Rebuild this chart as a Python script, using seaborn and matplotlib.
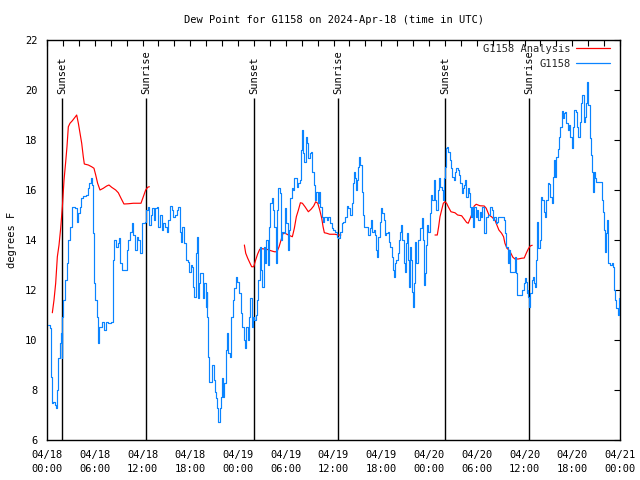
import pandas as pd
import matplotlib
matplotlib.use('Agg')
import matplotlib.pyplot as plt
import matplotlib.dates as mdates
from matplotlib.lines import Line2D
import seaborn as sns

START = pd.Timestamp('2024-04-18 00:00')

# station observations (hours since start, deg F)
obs_hours = [
    0.08, 0.38, 0.50, 0.67, 0.80, 1.00, 1.13, 1.26, 1.42, 1.59, 1.76, 1.84, 1.93, 2.05, 2.26, 2.47,
    2.68, 2.89, 3.18, 3.52, 3.81, 3.94, 4.10, 4.27, 4.57, 4.86, 5.11, 5.32, 5.49, 5.61, 5.82, 5.90,
    6.03, 6.24, 6.45, 6.58, 6.87, 7.12, 7.41, 7.71, 8.00, 8.25, 8.33, 8.46, 8.67, 8.88, 9.05, 9.21,
    9.46, 9.80, 10.01, 10.22, 10.47, 10.64, 10.85, 11.06, 11.27, 11.48, 11.68, 11.89, 12.31, 12.48,
    12.65, 12.82, 13.07, 13.23, 13.40, 13.57, 13.78, 13.99, 14.20, 14.41, 14.62, 14.83, 15.04, 15.25,
    15.45, 15.66, 15.87, 16.08, 16.29, 16.50, 16.67, 16.84, 17.00, 17.25, 17.42, 17.67, 17.88,
    18.09, 18.26, 18.39, 18.51, 18.68, 18.81, 18.93, 19.02, 19.14, 19.27, 19.52, 19.64, 19.77, 19.94,
    20.06, 20.15, 20.23, 20.36, 20.61, 20.78, 20.94, 21.11, 21.28, 21.40, 21.53, 21.70, 21.87, 22.03,
    22.16, 22.28, 22.45, 22.58, 22.79, 22.99, 23.12, 23.33, 23.54, 23.75, 23.92, 24.13, 24.34, 24.55,
    24.71, 24.88, 25.05, 25.22, 25.38, 25.55, 25.72, 25.89, 26.06, 26.22, 26.39, 26.56, 26.73, 26.89,
    27.06, 27.23, 27.40, 27.56, 27.73, 27.90, 28.07, 28.23, 28.40, 28.57, 28.74, 28.90, 29.07, 29.24,
    29.41, 29.57, 29.74, 29.91, 30.08, 30.25, 30.41, 30.58, 30.75, 30.92, 31.08, 31.25, 31.42, 31.59,
    31.75, 31.92, 32.01, 32.17, 32.34, 32.51, 32.68, 32.84, 33.01, 33.18, 33.35, 33.51, 33.68, 33.85,
    34.02, 34.18, 34.35, 34.52, 34.69, 34.85,
    35.13, 35.34, 35.55, 35.76, 35.97, 36.18, 36.39, 36.60, 36.81, 37.02, 37.22, 37.43, 37.64, 37.85,
    38.06, 38.27, 38.40, 38.52, 38.69, 38.86, 38.98, 39.11, 39.24, 39.36, 39.53, 39.70, 39.86, 40.16,
    40.37, 40.53, 40.70, 40.87, 41.04, 41.21, 41.37, 41.50, 41.62, 41.83, 42.00, 42.13, 42.29, 42.46,
    42.63, 42.80, 42.96, 43.13, 43.30, 43.47, 43.55, 43.72, 43.89, 44.05, 44.22, 44.39, 44.52, 44.64,
    44.81, 44.93, 45.06, 45.23, 45.40, 45.52, 45.65, 45.77, 45.90, 46.02, 46.15, 46.27, 46.40, 46.57,
    46.74, 46.90, 47.07, 47.24, 47.32, 47.45, 47.57, 47.74, 47.91, 48.08, 48.24, 48.41, 48.58, 48.75,
    48.91, 49.08, 49.25, 49.42, 49.59, 49.75, 49.88, 50.00, 50.09, 50.26, 50.42, 50.59, 50.76, 50.93,
    51.09, 51.26, 51.43, 51.60, 51.76, 51.93, 52.10, 52.27, 52.43,
    52.51, 52.68, 52.85, 53.01, 53.14, 53.26, 53.43, 53.56, 53.68, 53.85, 54.02, 54.19, 54.35, 54.52,
    54.69, 54.86, 55.02, 55.19, 55.36, 55.53, 55.69, 55.86, 56.03, 56.20, 56.36, 56.53, 56.70, 56.95,
    57.20, 57.45, 57.54, 57.71, 57.87, 58.00, 58.12, 58.38, 58.63, 58.80, 58.96, 59.05, 59.30, 59.55,
    59.72, 59.88, 60.05, 60.22, 60.30, 60.39, 60.47, 60.60, 60.72, 60.89, 61.06, 61.23, 61.35, 61.43,
    61.56, 61.73, 61.90, 62.06, 62.23, 62.40, 62.57, 62.73, 62.90, 63.07, 63.24, 63.40, 63.53, 63.66,
    63.82, 63.99, 64.16, 64.33, 64.49, 64.66, 64.79, 64.91, 65.08, 65.25, 65.42, 65.58, 65.75, 65.92,
    66.09, 66.25, 66.42, 66.59, 66.76, 66.92, 67.09, 67.26, 67.43, 67.59, 67.76, 67.89, 68.01, 68.18,
    68.35, 68.52, 68.64, 68.77, 68.89, 69.02, 69.27, 69.52, 69.69, 69.86, 70.02, 70.15, 70.28, 70.40,
    70.53, 70.74, 70.95, 71.11, 71.24, 71.37, 71.53, 71.70, 71.83, 71.95,
]
obs_dewpt = [
    10.6, 10.47, 8.53, 7.47, 7.53, 7.4, 7.27, 8.0, 9.27, 9.87, 10.27, 9.27, 10.93, 11.6, 12.4, 13.07,
    14.0, 14.53, 15.31, 15.27, 14.73, 15.07, 15.33, 15.67, 15.77, 15.8, 16.07, 16.27, 16.47, 16.2, 14.27, 12.27,
    11.6, 10.93, 9.87, 10.53, 10.73, 10.4, 10.73, 10.69, 10.73, 11.6, 13.2, 14.0, 13.73, 13.87, 14.07, 13.07,
    12.8, 12.8, 13.6, 14.0, 14.33, 14.67, 14.2, 13.6, 14.13, 14.0, 13.47, 14.69, 14.73, 15.2,
    15.33, 14.6, 15.0, 15.27, 14.8, 15.27, 15.33, 14.53, 15.0, 14.4, 14.67, 14.53, 14.33, 14.8,
    15.36, 15.2, 14.93, 15.0, 15.2, 15.31, 14.33, 13.93, 14.53, 13.87, 13.2, 13.13, 12.73,
    13.0, 12.93, 12.13, 11.73, 13.47, 14.13, 13.47, 11.67, 12.27, 12.67, 12.67, 11.67, 12.27, 11.33,
    11.93, 10.93, 9.33, 8.33, 8.33, 9.0, 8.4, 7.93, 7.67, 7.27, 6.73, 7.27, 7.73, 8.47,
    7.73, 8.27, 9.6, 10.27, 9.47, 9.33, 10.93, 11.6, 12.07, 12.53, 12.33, 11.87, 11.07, 10.53,
    10.0, 9.67, 10.53, 10.0, 10.93, 11.67, 10.53, 10.93, 10.8, 11.0, 11.6, 12.4, 13.73, 12.8,
    12.13, 13.73, 13.07, 14.0, 13.0, 14.53, 15.47, 15.67, 15.2, 14.53, 13.07, 15.2, 16.07, 15.87,
    14.0, 14.33, 14.27, 15.27, 14.67, 13.6, 14.4, 15.67, 16.07, 16.0, 16.47, 16.47, 16.13, 16.27,
    16.4, 17.6, 18.4, 17.47, 17.13, 18.13, 17.87, 17.27, 17.47, 17.53, 16.73, 16.2, 15.6, 15.93,
    15.47, 15.93, 15.33, 14.93, 14.73, 14.93,
    14.8, 14.93, 14.67, 14.47, 14.4, 14.33, 14.13, 14.07, 14.33, 14.67, 14.73, 14.93, 15.36, 15.27,
    15.0, 15.47, 16.27, 16.73, 16.47, 16.0, 16.4, 16.93, 17.33, 17.0, 15.93, 15.0, 14.53, 14.53,
    14.2, 14.47, 14.8, 14.33, 14.4, 14.2, 13.6, 13.33, 14.13, 14.73, 15.27, 15.07, 14.8, 14.2,
    14.27, 14.33, 13.93, 13.73, 13.33, 12.8, 12.53, 13.07, 13.2, 13.47, 14.0, 14.33, 14.6, 14.0,
    13.07, 12.73, 13.87, 14.27, 13.2, 12.13, 13.73, 13.2, 11.93, 11.33, 12.27, 13.93, 13.07, 14.0,
    14.0, 14.47, 14.87, 14.0, 12.2, 12.67, 13.8, 14.6, 14.33, 15.07, 15.8, 15.6, 16.4, 15.6,
    15.2, 16.0, 16.47, 16.13, 16.0, 15.6, 16.47, 16.93, 17.67, 17.73, 17.53, 17.2, 16.87, 16.53,
    16.4, 16.73, 16.87, 16.8, 16.6, 16.27, 15.87, 16.07, 16.2,
    16.4, 15.73, 16.07, 15.87, 15.33, 14.93, 15.33, 14.53, 15.33, 14.93, 15.2, 14.8, 15.13, 14.93,
    15.33, 14.27, 14.27, 14.93, 15.0, 15.0, 15.33, 15.2, 14.8, 14.93, 14.67, 14.73, 14.93, 14.93,
    14.93, 14.8, 14.27, 13.73, 13.07, 13.6, 12.73, 12.73, 12.73, 13.33, 12.67, 11.8, 11.8, 11.8,
    12.0, 12.27, 12.47, 12.33, 11.87, 12.0, 11.73, 11.33, 11.87, 12.4, 12.53, 12.27, 12.13, 13.2,
    14.73, 13.67, 14.0, 15.73, 15.6, 15.13, 14.93, 15.6, 16.27, 16.24, 15.73, 15.47, 16.53, 17.2,
    16.53, 17.33, 17.63, 18.13, 18.53, 19.17, 18.87, 19.07, 19.13, 18.67, 18.4, 18.6, 18.13, 17.67,
    18.53, 19.2, 19.13, 18.53, 18.13, 18.73, 19.47, 19.8, 18.73, 18.93, 19.47, 20.33, 19.4, 18.07,
    17.4, 16.73, 15.93, 16.73, 16.47, 16.33, 16.33, 16.33, 15.6, 15.13, 14.4, 13.53, 14.27, 14.8,
    13.07, 13.0, 13.07, 12.93, 12.0, 11.6, 11.27, 11.0, 11.67, 11.87,
]

# analysis, three separate runs
ana1_hours = [0.67, 0.88, 1.09, 1.30, 1.51, 1.72, 1.93, 2.14, 2.35, 2.51, 2.68, 2.89, 3.18, 3.52,
              3.73, 3.94, 4.15, 4.36, 4.56, 4.69, 5.19, 5.61, 5.90, 6.12, 6.36, 6.66, 7.08, 7.50,
              7.79, 8.12, 8.63, 8.96, 9.30, 9.67, 10.22, 10.85, 11.81, 12.10, 12.40, 12.65, 12.86]
ana1_dewpt = [11.09, 11.6, 12.27, 13.33, 13.8, 14.47, 15.33, 16.4, 17.13, 17.73, 18.53, 18.67, 18.77, 18.91,
              19.0, 18.67, 18.27, 17.87, 17.33, 17.04, 17.0, 16.93, 16.87, 16.6, 16.27, 16.0, 16.07, 16.16,
              16.2, 16.11, 16.0, 15.89, 15.67, 15.44, 15.45, 15.47, 15.47, 15.73, 16.0, 16.11, 16.13]

ana2_hours = [24.80, 24.97, 25.22, 25.51, 25.72, 25.97, 26.22, 26.47, 26.73, 27.06, 27.61, 28.15,
              28.57, 28.90, 29.16, 29.41, 29.66, 29.91, 30.33, 30.83, 31.08, 31.33, 31.59, 31.84,
              32.09, 32.42, 32.84, 33.18, 33.51, 33.76, 34.02, 34.27, 34.52, 34.69, 34.85, 35.15,
              35.52, 36.18, 36.60, 36.93]
ana2_dewpt = [13.8, 13.47, 13.27, 13.07, 12.93, 12.93, 13.2, 13.44, 13.63, 13.65, 13.63, 13.57,
              13.53, 13.53, 13.73, 14.0, 14.27, 14.27, 14.2, 14.13, 14.47, 14.93, 15.2, 15.49,
              15.47, 15.33, 15.13, 15.23, 15.36, 15.53, 15.47, 15.2, 14.87, 14.53, 14.29, 14.27,
              14.23, 14.23, 14.2, 14.2]

ana3_hours = [48.75, 49.04, 49.21, 49.38, 49.59, 49.80, 50.00, 50.21, 50.42, 50.76, 51.26, 51.60,
              52.10, 52.43, 52.73, 52.93, 53.35, 53.68, 53.93, 54.40, 54.94, 55.19, 55.53, 55.86,
              56.28, 56.53, 56.78, 57.12, 57.37, 57.54, 57.79, 58.04, 58.29, 58.54, 58.80, 59.21,
              59.63, 59.97, 60.22, 60.47, 60.72, 60.97]
ana3_dewpt = [14.2, 14.2, 14.53, 14.93, 15.2, 15.47, 15.53, 15.47, 15.33, 15.13, 15.09, 15.0,
              14.97, 14.83, 14.7, 14.67, 15.0, 15.36, 15.43, 15.37, 15.36, 15.27, 15.0, 14.93,
              14.8, 14.6, 14.4, 14.27, 14.13, 13.87, 13.67, 13.6, 13.47, 13.31, 13.24, 13.24,
              13.27, 13.28, 13.47, 13.64, 13.76, 13.79]

sunset_hours = [1.9, 26.0, 50.05]
sunrise_hours = [12.5, 36.6, 60.6]

RED = '#ff0000'
BLUE = '#0a84ff'


def to_time(hours):
    return START + pd.to_timedelta(hours, unit='h')


obs = pd.DataFrame({'time': to_time(obs_hours), 'dewpt': obs_dewpt})
ana = pd.concat([
    pd.DataFrame({'time': to_time(h), 'dewpt': v, 'run': i})
    for i, (h, v) in enumerate([(ana1_hours, ana1_dewpt), (ana2_hours, ana2_dewpt), (ana3_hours, ana3_dewpt)])
], ignore_index=True)

sns.set_theme(style='white')
plt.rcParams['font.family'] = ['DejaVu Sans Mono']
plt.rcParams['font.size'] = 7

fig = plt.figure(figsize=(6.4, 4.8), dpi=100)
ax = fig.add_axes([47 / 640, 40 / 480, 573 / 640, 400 / 480])

# sunrise / sunset markers
for hrs, name in [(sunset_hours, 'Sunset'), (sunrise_hours, 'Sunrise')]:
    for h in hrs:
        t = to_time(h)
        ax.vlines(t, 6, 19.68, color='black', lw=1.0, zorder=1)
        ax.text(t, 19.85, name, rotation=90, ha='center', va='bottom', fontsize=7.5, color='black')

sns.lineplot(data=ana, x='time', y='dewpt', units='run', estimator=None, color=RED, lw=0.85, ax=ax, zorder=2)
sns.lineplot(data=obs, x='time', y='dewpt', color=BLUE, lw=0.85, drawstyle='steps-post', ax=ax, zorder=3)

ax.set_xlim(START, START + pd.Timedelta(hours=72))
ax.set_ylim(6, 22)
ax.set_yticks(range(6, 23, 2))
ax.xaxis.set_major_locator(mdates.HourLocator(byhour=[0, 6, 12, 18]))
ax.xaxis.set_minor_locator(mdates.HourLocator(byhour=range(0, 24, 2)))
ax.xaxis.set_major_formatter(mdates.DateFormatter('%m/%d\n%H:%M'))
ax.tick_params(axis='both', which='both', direction='in', top=True, right=True,
               length=4, width=0.8, color='black', labelsize=7.5, labelcolor='black')
ax.tick_params(axis='x', which='major', pad=7)
ax.tick_params(axis='y', which='major', pad=7)
for lab in ax.get_xticklabels():
    lab.set_linespacing(1.5)
for sp in ax.spines.values():
    sp.set_color('black')
    sp.set_linewidth(1.0)

ax.set_xlabel('')
ax.set_ylabel('degrees F', fontsize=7.5, color='black')
ax.yaxis.set_label_coords(-0.053, 0.5)
ax.set_title('Dew Point for G1158 on 2024-Apr-18 (time in UTC)', fontsize=7.5, color='black', pad=12)

handles = [Line2D([], [], color=RED, lw=0.9), Line2D([], [], color=BLUE, lw=0.9)]
ax.legend(handles, ['G1158 Analysis', 'G1158'], loc='upper right', bbox_to_anchor=(0.9825, 0.99),
          frameon=False, markerfirst=False, handlelength=3.3, handletextpad=0.5,
          labelspacing=0.45, borderpad=0, borderaxespad=0, fontsize=7.5)

fig.savefig('out.png', dpi=100)
